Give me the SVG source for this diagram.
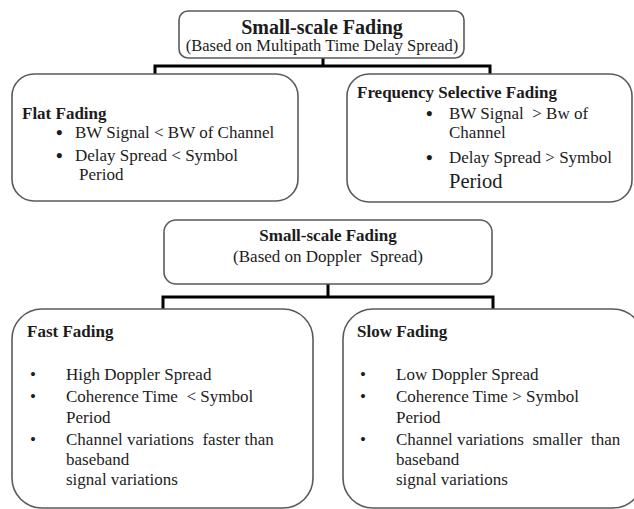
<svg xmlns="http://www.w3.org/2000/svg" width="634" height="509" viewBox="0 0 634 509">
<style>
.box{fill:#fff;stroke:#5a5a5a;stroke-width:1.6}
.con{fill:none;stroke:#000;stroke-width:3}
text{font-family:"Liberation Serif","Times New Roman",serif;fill:#1c1c1c;font-size:17px}
.b{font-weight:bold}
.c{text-anchor:middle}
.bl{font-weight:bold;font-size:19px}
</style>
<rect width="634" height="509" fill="#fff"/>
<g id="connectors">
<path class="con" d="M323 58V66M155 74V66H490V74"/>
<path class="con" d="M328 284V297M163 309V297H493V309"/>
</g>
<g id="multipath">
<rect class="box" x="179" y="11" width="285" height="47" rx="9"/>
<text class="b c" x="322" y="34" style="font-size:20px">Small-scale Fading</text>
<text class="c" x="322" y="51" style="font-size:16.5px">(Based on Multipath Time Delay Spread)</text>
</g>
<g id="flat">
<rect class="box" x="12" y="74" width="286" height="127" rx="22"/>
<text class="b" x="22" y="119">Flat Fading</text>
<text class="bl" x="56" y="139">•</text>
<text x="75" y="138">BW Signal &lt; BW of Channel</text>
<text class="bl" x="56" y="162">•</text>
<text x="75" y="161">Delay Spread &lt; Symbol</text>
<text x="79" y="180">Period</text>
</g>
<g id="freqsel">
<rect class="box" x="347" y="74" width="285" height="128" rx="22"/>
<text class="b" x="357" y="98">Frequency Selective Fading</text>
<text class="bl" x="426" y="120">•</text>
<text x="449" y="119" xml:space="preserve">BW Signal  &gt; Bw of</text>
<text x="449" y="138">Channel</text>
<text class="bl" x="426" y="164">•</text>
<text x="449" y="163">Delay Spread &gt; Symbol</text>
<text x="449" y="188" style="font-size:20.5px">Period</text>
</g>
<g id="doppler">
<rect class="box" x="164" y="220" width="328" height="64" rx="12"/>
<text class="b c" x="328" y="241">Small-scale Fading</text>
<text class="c" x="328" y="262" xml:space="preserve">(Based on Doppler  Spread)</text>
</g>
<g id="fast">
<rect class="box" x="12" y="309" width="301" height="199" rx="30"/>
<text class="b" x="27" y="337">Fast Fading</text>
<text x="30" y="380">•</text>
<text x="66" y="380">High Doppler Spread</text>
<text x="30" y="402">•</text>
<text x="66" y="402" xml:space="preserve">Coherence Time  &lt; Symbol</text>
<text x="66" y="423">Period</text>
<text x="30" y="445">•</text>
<text x="66" y="445" xml:space="preserve">Channel variations  faster than</text>
<text x="66" y="465">baseband</text>
<text x="66" y="485">signal variations</text>
</g>
<g id="slow">
<rect class="box" x="343" y="309" width="300" height="199" rx="30"/>
<text class="b" x="357" y="337">Slow Fading</text>
<text x="360" y="380">•</text>
<text x="396" y="380">Low Doppler Spread</text>
<text x="360" y="402">•</text>
<text x="396" y="402">Coherence Time &gt; Symbol</text>
<text x="396" y="423">Period</text>
<text x="360" y="445">•</text>
<text x="396" y="445" xml:space="preserve">Channel variations  smaller  than</text>
<text x="396" y="465">baseband</text>
<text x="396" y="485">signal variations</text>
</g>
</svg>
